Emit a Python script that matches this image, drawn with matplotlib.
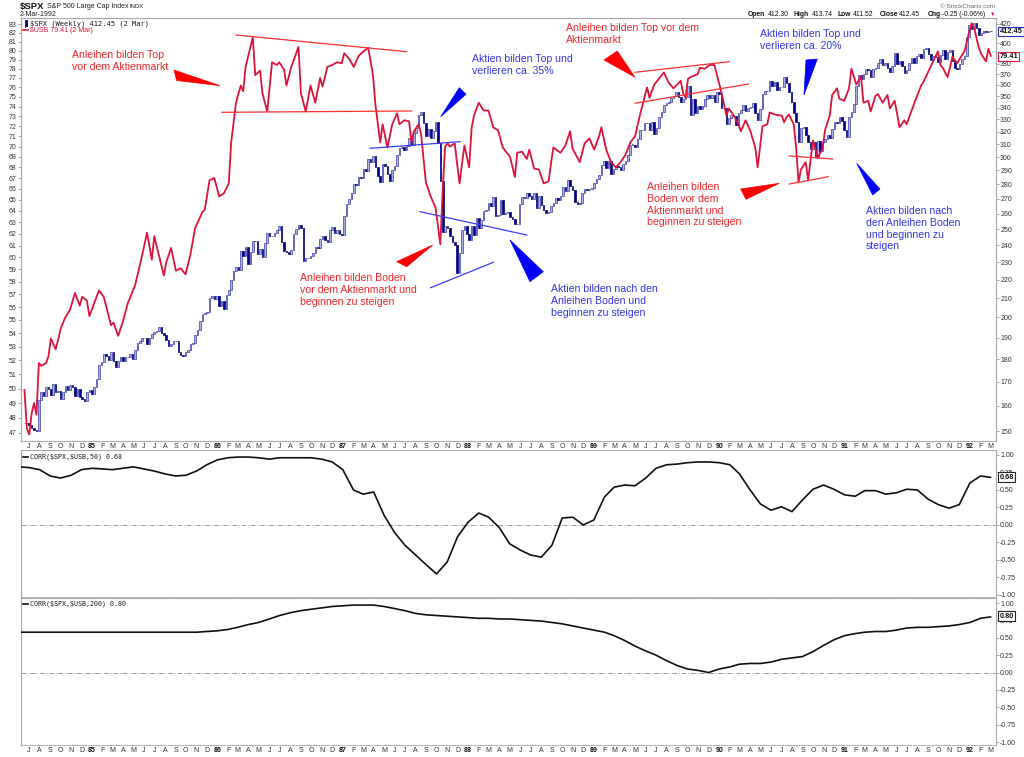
import datetime as dt
import numpy as np
import matplotlib
matplotlib.use("Agg")
import matplotlib.pyplot as plt
import matplotlib.dates as mdates
from matplotlib.patches import Polygon
from matplotlib.lines import Line2D
from matplotlib.ticker import NullLocator, NullFormatter, FixedLocator, FixedFormatter

plt.rcParams['font.family'] = ['Liberation Sans', 'DejaVu Sans']

# ---------------- data ----------------
# weekly S&P 500 closes, one per week (weeks starting Monday 18-Jun-1984 ... 2-Mar-1992)
spx_close = [
    # 1984
    153.0, 153.2, 152.4, 151.0, 150.5, 150.1, 162.4, 165.4, 164.1, 167.5, 166.7, 164.3, 168.8, 165.7,
    166.1, 162.7, 165.8, 168.1, 166.3, 168.7, 167.6, 164.1, 166.9, 163.6, 162.8, 161.8, 165.5, 166.3,
    # 1985
    164.6, 167.9, 171.3, 177.4, 178.6, 182.2, 181.6, 179.4, 183.2, 179.1, 176.5, 179.0, 180.7, 179.0,
    180.9, 181.1, 182.2, 180.1, 184.3, 187.4, 188.3, 189.6, 189.7, 187.1, 189.6, 191.9, 192.5, 193.3,
    195.1, 192.4, 191.5, 188.9, 186.1, 187.2, 188.6, 188.2, 183.4, 182.0, 181.3, 183.2, 184.3, 187.0,
    187.5, 191.5, 193.7, 198.1, 201.5, 202.2, 202.9, 209.9, 210.9, 209.6,
    # 1986
    210.9, 205.9, 208.4, 204.3, 211.8, 214.6, 219.8, 224.6, 226.9, 225.6, 236.5, 233.3, 238.9, 228.7,
    236.0, 242.4, 242.3, 234.8, 237.9, 232.8, 241.4, 247.4, 245.7, 245.7, 247.6, 249.6, 251.8, 242.2,
    236.4, 236.0, 234.9, 236.9, 247.2, 250.2, 252.9, 250.5, 230.7, 232.2, 232.2, 233.7, 235.5, 238.8,
    238.3, 244.0, 245.8, 243.0, 242.0, 249.2, 251.2, 247.4, 249.7, 246.8,
    # 1987
    246.5, 258.7, 266.3, 270.1, 274.1, 280.0, 279.7, 285.5, 284.2, 290.7, 289.9, 298.2, 296.1, 300.5,
    292.5, 286.0, 281.5, 294.7, 293.4, 287.4, 282.2, 290.1, 293.5, 301.6, 307.0, 308.0, 305.6, 308.4,
    314.6, 309.3, 318.7, 323.0, 334.0, 335.9, 327.0, 316.7, 322.0, 314.9, 320.2, 328.1, 311.1, 282.7,
    248.2, 251.8, 250.4, 245.6, 242.0, 240.3, 223.9, 235.3, 249.2, 252.0, 247.1,
    # 1988
    243.4, 252.1, 246.5, 257.1, 251.0, 256.0, 261.6, 262.5, 267.3, 264.9, 271.1, 258.5, 258.9, 269.4,
    259.8, 260.1, 261.3, 257.5, 256.8, 253.0, 253.4, 266.5, 271.3, 270.7, 273.8, 271.8, 270.0, 274.0,
    263.5, 272.0, 266.0, 262.6, 260.2, 261.0, 264.9, 266.8, 270.7, 268.9, 271.9, 278.1, 275.2, 283.0,
    278.5, 276.3, 267.9, 266.5, 267.2, 274.0, 277.0, 276.3, 276.9, 277.7,
    # 1989
    280.7, 283.9, 286.6, 293.8, 297.1, 292.0, 296.8, 287.1, 291.2, 292.9, 292.7, 290.5, 294.9, 297.2,
    301.7, 309.6, 309.6, 307.6, 313.8, 321.2, 321.6, 326.7, 326.6, 321.4, 328.0, 318.0, 323.0, 331.8,
    335.9, 342.1, 343.9, 344.7, 347.9, 350.5, 353.7, 348.8, 345.1, 347.1, 349.2, 358.8, 333.7, 347.2,
    335.1, 340.9, 339.1, 341.6, 347.4, 350.6, 348.7, 351.0, 344.8, 353.4,
    # 1990
    352.2, 339.9, 339.2, 325.8, 330.9, 333.6, 332.7, 325.0, 335.5, 337.9, 341.9, 337.2, 339.9, 340.1,
    344.3, 335.1, 329.1, 338.4, 352.0, 354.6, 354.6, 363.2, 358.7, 362.9, 355.4, 358.0, 358.4, 367.3,
    361.6, 353.4, 344.9, 335.5, 327.8, 311.5, 322.6, 323.4, 316.8, 311.3, 306.1, 311.5, 300.0, 312.5,
    304.7, 311.9, 313.7, 317.1, 315.1, 322.2, 327.8, 326.8, 331.8, 328.3,
    # 1991
    321.0, 315.2, 332.2, 336.1, 343.1, 359.4, 369.1, 365.7, 370.5, 374.9, 373.5, 367.5, 375.2, 375.4,
    380.4, 384.2, 379.0, 380.8, 376.0, 372.4, 377.5, 389.8, 379.4, 382.3, 377.9, 371.2, 374.1, 380.3,
    385.4, 380.9, 387.2, 389.3, 385.6, 394.2, 395.4, 389.1, 383.6, 387.6, 385.9, 381.3, 387.9, 392.8,
    384.2, 391.3, 393.1, 382.6, 376.1, 375.2, 379.1, 384.5, 387.0, 406.5,
    # 1992
    419.3, 415.1, 420.8, 415.5, 408.8, 411.0, 412.5, 411.4, 412.7, 412.45,
]

# $USB readings: week number (same weekly count as above) and value
usb_week = [
    0, 1, 2, 3, 4, 5, 6, 7, 8, 9, 10, 11, 12, 13, 14, 15, 17, 19, 21, 23, 24, 26, 27, 31, 33, 36, 37,
    39, 41, 43, 46, 49, 51, 53, 54, 58, 59, 61, 63, 65, 67, 69, 71, 74, 75, 77, 79, 81, 83, 85, 86,
    88, 90, 91, 92, 95, 96, 98, 99, 101, 102, 103, 105, 106, 108, 109, 111, 114, 115, 117, 119, 121,
    123, 124, 126, 128, 130, 132, 133, 135, 137, 139, 141, 143, 145, 146, 148, 149, 151, 153, 155,
    156, 158, 160, 161, 162, 164, 165, 167, 169, 171, 173, 174, 175, 176, 177, 179, 180, 181, 183,
    185, 186, 187, 189, 191, 193, 195, 197, 199, 202, 204, 205, 207, 209, 210, 212, 214, 216, 218,
    220, 223, 225, 227, 228, 231, 233, 235, 237, 239, 240, 242, 244, 246, 248, 250, 252, 254, 256,
    259, 260, 262, 266, 268, 270, 273, 274, 275, 276, 277, 280, 281, 283, 285, 287, 288, 290, 292,
    293, 295, 297, 298, 300, 302, 304, 305, 307, 309, 310, 312, 314, 315, 316, 317, 318, 320, 321,
    322, 323, 325, 326, 328, 330, 332, 333, 335, 336, 338, 339, 341, 343, 344, 346, 348, 349, 351,
    352, 354, 355, 357, 359, 360, 362, 364, 366, 367, 368, 371, 373, 374, 376, 378, 380, 381, 382,
    384, 385, 386, 388, 390, 391, 393, 394, 395, 397, 398, 400, 401, 402,
]
usb_value = [
    49.9, 47.3, 46.9, 48.3, 49.0, 48.2, 51.8, 51.6, 51.7, 51.8, 52.3, 53.6, 53.2, 52.8, 53.5, 54.3,
    55.2, 55.8, 57.1, 56.1, 56.8, 56.5, 55.3, 57.3, 56.8, 54.6, 54.8, 53.8, 54.9, 56.3, 57.7, 60.2,
    62.1, 59.8, 61.8, 58.5, 59.6, 60.8, 58.9, 59.1, 58.6, 60.2, 62.5, 63.9, 64.1, 66.8, 67.0, 65.3,
    65.6, 66.5, 70.4, 74.4, 76.2, 75.6, 78.2, 81.5, 77.3, 77.8, 75.4, 73.5, 76.0, 78.7, 78.4, 78.7,
    77.9, 76.2, 78.2, 80.4, 75.4, 73.5, 76.2, 74.4, 77.0, 76.1, 78.2, 78.4, 78.7, 78.6, 79.7, 79.1,
    78.2, 79.4, 79.9, 80.3, 77.3, 74.2, 70.4, 72.2, 69.9, 72.2, 73.3, 72.2, 72.6, 72.5, 70.4, 71.5,
    72.2, 71.2, 66.6, 65.3, 64.3, 61.1, 66.0, 70.0, 70.3, 70.0, 70.3, 68.3, 66.5, 70.1, 68.0, 71.8,
    73.1, 74.4, 73.6, 73.6, 71.9, 71.6, 69.9, 69.0, 67.1, 69.4, 69.5, 68.8, 69.7, 67.9, 67.8, 66.5,
    66.7, 69.9, 69.4, 70.1, 71.5, 69.8, 68.5, 70.3, 70.8, 69.7, 71.0, 71.9, 69.7, 68.5, 68.0, 68.5,
    69.2, 70.4, 71.0, 73.1, 76.0, 74.9, 76.3, 77.6, 76.5, 75.9, 76.7, 75.4, 74.9, 76.9, 77.1, 77.4,
    78.1, 78.0, 78.4, 78.4, 77.4, 75.4, 73.1, 73.8, 73.1, 72.2, 71.5, 72.6, 71.5, 69.9, 68.0, 72.0,
    72.2, 73.4, 73.2, 73.1, 73.1, 72.4, 72.9, 73.2, 72.2, 69.9, 66.6, 67.8, 68.5, 66.8, 70.6, 68.9,
    69.8, 71.6, 73.1, 75.2, 75.9, 74.8, 74.6, 75.9, 78.0, 76.3, 77.2, 74.4, 74.6, 73.5, 75.1, 75.3,
    74.4, 75.2, 73.8, 74.6, 71.9, 72.6, 72.2, 72.9, 74.9, 76.2, 76.6, 77.7, 78.8, 79.9, 78.4, 78.1,
    77.1, 78.1, 79.3, 78.6, 79.5, 79.9, 82.1, 83.1, 82.6, 80.3, 79.6, 78.8, 80.2, 79.41,
]

# monthly correlation readings, June 1984 ... March 1992
corr50 = [
    0.83, 0.82, 0.79, 0.70, 0.67, 0.71, 0.79,
    0.81, 0.80, 0.79, 0.81, 0.83, 0.80, 0.77, 0.73, 0.70, 0.71, 0.77, 0.86,
    0.93, 0.96, 0.97, 0.97, 0.96, 0.94, 0.96, 0.96, 0.96, 0.96, 0.94, 0.90,
    0.79, 0.50, 0.44, 0.47, 0.14, -0.11, -0.29, -0.43, -0.57, -0.70, -0.53, -0.17,
    0.04, 0.17, 0.11, -0.04, -0.27, -0.36, -0.43, -0.46, -0.29, 0.10, 0.11, 0.00,
    0.07, 0.40, 0.54, 0.57, 0.56, 0.67, 0.81, 0.86, 0.87, 0.89, 0.90, 0.90,
    0.89, 0.86, 0.73, 0.50, 0.30, 0.21, 0.26, 0.19, 0.36, 0.51, 0.57, 0.51,
    0.43, 0.41, 0.49, 0.49, 0.44, 0.46, 0.51, 0.50, 0.37, 0.29, 0.24, 0.29,
    0.60, 0.70, 0.68,
]
corr200 = [
    0.58, 0.58, 0.58, 0.58, 0.58, 0.58, 0.58,
    0.58, 0.58, 0.58, 0.58, 0.58, 0.58, 0.58, 0.58, 0.58, 0.58, 0.58, 0.59,
    0.60, 0.62, 0.65, 0.69, 0.72, 0.77, 0.82, 0.86, 0.89, 0.91, 0.93, 0.95,
    0.96, 0.97, 0.97, 0.97, 0.95, 0.92, 0.89, 0.85, 0.83, 0.82, 0.81, 0.80,
    0.79, 0.78, 0.78, 0.77, 0.77, 0.76, 0.75, 0.74, 0.72, 0.70, 0.67, 0.64,
    0.61, 0.58, 0.53, 0.46, 0.38, 0.31, 0.25, 0.17, 0.10, 0.05, 0.03, 0.00,
    0.05, 0.08, 0.12, 0.13, 0.13, 0.15, 0.19, 0.21, 0.23, 0.30, 0.39, 0.47,
    0.53, 0.56, 0.58, 0.59, 0.59, 0.61, 0.64, 0.65, 0.65, 0.66, 0.67, 0.69,
    0.72, 0.78, 0.80,
]

usb_ticks = list(range(47, 84))
spx_ticks = [150, 160, 170, 180, 190, 200, 210, 220, 230, 240, 250, 260, 270, 280, 290, 300,
             310, 320, 330, 340, 350, 360, 370, 380, 400, 420]
corr_ticks = [1.0, 0.75, 0.5, 0.25, 0.0, -0.25, -0.5, -0.75, -1.0]
month_letters = ['J', 'F', 'M', 'A', 'M', 'J', 'J', 'A', 'S', 'O', 'N', 'D']

# ---------------- derived dates ----------------
first_week = dt.date(1984, 6, 18)
week_x = mdates.date2num([first_week + dt.timedelta(days=7 * i) for i in range(len(spx_close))])
usb_x = mdates.date2num([first_week + dt.timedelta(days=7 * w) for w in usb_week])
corr_x = mdates.date2num([dt.date(1984 + (5 + k) // 12, (5 + k) % 12 + 1, 1) for k in range(len(corr50))])
month_dates = []
d = dt.date(1984, 7, 1)
while d <= dt.date(1992, 3, 1):
    month_dates.append(d)
    d = dt.date(d.year + (d.month // 12), d.month % 12 + 1, 1)
month_x = mdates.date2num(month_dates)
month_lab = [("%02d" % (m.year % 100)) if m.month == 1 else month_letters[m.month - 1] for m in month_dates]
xlim = mdates.date2num([dt.date(1984, 6, 8), dt.date(1992, 3, 17)])

# ---------------- figure ----------------
W, H = 1024, 757
fig = plt.figure(figsize=(W / 100, H / 100), dpi=100)
fig.patch.set_facecolor('white')


def fx(x):
    return x / W


def fy(y):
    return 1 - y / H


L, R = 21, 996
SPINE = '#a9a9a9'
TXT = '#333333'
NAVY = '#000080'
CRIMSON = '#dc143c'


def style_axes(a):
    for s in a.spines.values():
        s.set_color(SPINE)
        s.set_linewidth(0.8)
    a.spines['bottom'].set_linestyle((0, (1, 1.5)))
    a.tick_params(axis='y', which='major', labelsize=5, length=2, width=0.5,
                  color='#888888', pad=1, labelcolor=TXT)
    a.tick_params(axis='x', which='major', length=0, pad=1.2, labelsize=5, labelcolor=TXT)


def month_axis(a, show):
    a.set_xlim(*xlim)
    a.xaxis.set_major_locator(FixedLocator(month_x))
    a.xaxis.set_major_formatter(FixedFormatter(month_lab))
    a.xaxis.set_minor_locator(NullLocator())
    a.tick_params(axis='x', labelbottom=show)
    if show:
        for t, lab in zip(a.get_xticklabels(), month_lab):
            if lab.isdigit():
                t.set_fontweight('bold')
                t.set_color('#111111')


# main price panel (SPX on right axis)
ax = fig.add_axes([fx(L), fy(441), (R - L) / W, (441 - 18) / H])
style_axes(ax)
ax.set_yscale('log')
ax.set_ylim(146.3, 426.4)
month_axis(ax, True)

opens = [spx_close[0]] + spx_close[:-1]
bottoms = [min(o, c) for o, c in zip(opens, spx_close)]
heights = [max(abs(c - o), 0.25) for o, c in zip(opens, spx_close)]
up = [c >= o for o, c in zip(opens, spx_close)]
face = ['#aab0e6' if u else NAVY for u in up]
edge = ['#3c3ca8' if u else NAVY for u in up]
ax.bar(week_x, heights, bottom=bottoms, width=4.6, color=face, edgecolor=edge, linewidth=0.5,
       align='center', zorder=2)

# USB on a twin axis, labels on the left
axu = ax.twinx()
axu.set_yscale('log')
axu.set_ylim(46.48, 83.70)
style_axes(axu)
axu.set_xlim(*xlim)
axu.plot(usb_x, usb_value, color=CRIMSON, lw=1.3, zorder=3)

# put axis sides in place (twinx moves the host's ticks to the left)
ax.yaxis.tick_right()
ax.yaxis.set_major_locator(FixedLocator(spx_ticks))
ax.yaxis.set_major_formatter(FixedFormatter([str(t) for t in spx_ticks]))
ax.yaxis.set_minor_locator(NullLocator())
ax.yaxis.set_minor_formatter(NullFormatter())
ax.tick_params(axis='y', which='major', labelsize=5, length=2, width=0.5, color='#888888', pad=1,
               labelcolor=TXT, left=False, labelleft=False, right=True, labelright=True)

axu.yaxis.tick_left()
axu.yaxis.set_major_locator(FixedLocator(usb_ticks))
axu.yaxis.set_major_formatter(FixedFormatter([str(t) for t in usb_ticks]))
axu.yaxis.set_minor_locator(NullLocator())
axu.yaxis.set_minor_formatter(NullFormatter())
axu.tick_params(axis='y', which='major', labelsize=5, length=2, width=0.5, color='#888888', pad=1,
                labelcolor=TXT, left=True, labelleft=True, right=False, labelright=False)


# correlation panels
def corr_panel(top, bottom, values, ylo, yhi, show_x):
    a = fig.add_axes([fx(L), fy(bottom), (R - L) / W, (bottom - top) / H])
    style_axes(a)
    a.set_ylim(ylo, yhi)
    a.yaxis.tick_right()
    a.yaxis.set_major_locator(FixedLocator(corr_ticks))
    a.yaxis.set_major_formatter(FixedFormatter(["%.2f" % t for t in corr_ticks]))
    month_axis(a, show_x)
    a.axhline(0, color='#8c8c8c', lw=0.6, ls=(0, (6, 2, 1, 2)), zorder=1)
    a.plot(corr_x, values, color='#111111', lw=1.2, zorder=3)
    return a


ax2 = corr_panel(450, 597, corr50, -1.03, 1.071, False)
ax3 = corr_panel(598, 745, corr200, -1.043, 1.072, True)

# ---------------- header / legends ----------------
fig.text(fx(20), fy(6.5), r'\$SPX', fontsize=6.8, fontweight='bold', va='center', color='#111')
fig.text(fx(47), fy(6.5), 'S&P 500 Large Cap Index', fontsize=5.0, va='center', color='#222')
fig.text(fx(129), fy(6.8), 'INDX', fontsize=4.2, va='center', color='#222')
fig.text(fx(20), fy(14.5), '2-Mar-1992', fontsize=5.0, va='center', color='#222')
fig.text(fx(995), fy(6), '\u00a9 StockCharts.com', fontsize=4.6, color='#666', ha='right', va='center')
hdr = [(747.7, 'Open', True), (768, '412.30', False), (794, 'High', True), (811.7, '413.74', False),
       (837, 'Low', True), (852.7, '411.52', False), (880, 'Close', True), (899, '412.45', False),
       (927.7, 'Chg', True), (941.7, '-0.25 (-0.06%)', False)]
for x, s, b in hdr:
    fig.text(fx(x), fy(14.5), s, fontsize=4.9, fontweight='bold' if b else 'normal', va='center', color='#111')
fig.text(fx(990), fy(14.5), '\u25bc', fontsize=4, va='center', color=CRIMSON)

fig.add_artist(Line2D([fx(24.5), fx(24.5)], [fy(20), fy(26.5)], transform=fig.transFigure, color=NAVY, lw=0.6))
fig.add_artist(Line2D([fx(26.8), fx(26.8)], [fy(20.5), fy(26)], transform=fig.transFigure, color=NAVY, lw=1.4))
fig.text(fx(30), fy(23.3), r'\$SPX (Weekly) 412.45 (2 Mar)', family='DejaVu Sans Mono', fontsize=5.1,
         va='center', color='#1a1a1a')
fig.add_artist(Line2D([fx(23), fx(28)], [fy(30), fy(30)], transform=fig.transFigure, color=CRIMSON, lw=1.2))
fig.text(fx(29.5), fy(30.2), r'\$USB 79.41 (2 Mar)', fontsize=5.0, va='center', color=CRIMSON)

for yy, s in [(457, r'CORR(\$SPX,\$USB,50) 0.68'), (603.5, r'CORR(\$SPX,\$USB,200) 0.80')]:
    fig.add_artist(Line2D([fx(23), fx(28)], [fy(yy), fy(yy)], transform=fig.transFigure, color='#111', lw=1.2))
    fig.text(fx(30), fy(yy), s, family='DejaVu Sans Mono', fontsize=4.8, va='center', color='#1a1a1a')


# last value boxes
def value_box(y, s, ec):
    fig.text(fx(999.5), fy(y), s, fontsize=5.3, fontweight='bold', va='center', ha='left', color='#111',
             bbox=dict(boxstyle='square,pad=0.18', fc='white', ec=ec, lw=0.8), zorder=5)


value_box(31.5, '412.45', '#2a2ab0')
value_box(56.5, '79.41', CRIMSON)
value_box(477, '0.68', '#222')
value_box(616, '0.80', '#222')

# ---------------- annotations ----------------
RED_T = '#f0262a'
BLUE_T = '#3535f0'
notes = [
    (72, 50, "Anleihen bilden Top\nvor dem Aktienmarkt", RED_T),
    (472, 54, "Aktien bilden Top und\nverlieren ca. 35%", BLUE_T),
    (300, 273, "Anleihen bilden Boden\nvor dem Aktienmarkt und\nbeginnen zu steigen", RED_T),
    (551, 284, "Aktien bilden nach den\nAnleihen Boden und\nbeginnen zu steigen", BLUE_T),
    (566, 23, "Anleihen bilden Top vor dem\nAktienmarkt", RED_T),
    (760, 29, "Aktien bilden Top und\nverlieren ca. 20%", BLUE_T),
    (647, 182, "Anleihen bilden\nBoden vor dem\nAktienmarkt und\nbeginnen zu steigen", RED_T),
    (866, 206, "Aktien bilden nach\nden Anleihen Boden\nund beginnen zu\nsteigen", BLUE_T),
]
for x, y, s, c in notes:
    fig.text(fx(x), fy(y), s, fontsize=7.6, color=c, ha='left', va='top', linespacing=1.22, zorder=6)

wedges = [
    ([(174, 70), (176.7, 80.5), (220, 85.7)], '#ff0000'),
    ([(459.3, 87.7), (466, 94.3), (440.7, 116.7)], '#0000ff'),
    ([(396.7, 261.7), (406.7, 266.7), (432.7, 245)], '#ff0000'),
    ([(510, 240), (543.3, 271.7), (530, 281.7)], '#0000ff'),
    ([(604, 60), (617.3, 51), (635, 77.3)], '#ff0000'),
    ([(806, 60), (817.3, 59), (804, 95)], '#0000ff'),
    ([(740.7, 189), (746, 199.3), (779.3, 183.3)], '#ff0000'),
    ([(856.7, 163.3), (880, 189), (872.7, 195)], '#0000ff'),
]
for pts, c in wedges:
    fig.add_artist(Polygon([(fx(a), fy(b)) for a, b in pts], closed=True, transform=fig.transFigure,
                           fc=c, ec=c, lw=0.5, zorder=6))

trend = [
    ((236, 35), (406.7, 51.7), '#ff3030'),
    ((221.7, 112.3), (411.7, 111), '#ff3030'),
    ((635, 72.3), (729.3, 61.7), '#ff3030'),
    ((635, 103.3), (748.3, 84), '#ff3030'),
    ((789.3, 156), (832.7, 159), '#ff3030'),
    ((789.3, 184), (828.3, 176.7), '#ff3030'),
    ((370, 148.3), (460, 141.7), '#3c3cff'),
    ((420, 211.7), (526.7, 235), '#3c3cff'),
    ((430.7, 287.7), (493.3, 262.3), '#3c3cff'),
]
for (x1, y1), (x2, y2), c in trend:
    fig.add_artist(Line2D([fx(x1), fx(x2)], [fy(y1), fy(y2)], transform=fig.transFigure, color=c,
                          lw=0.9, zorder=6))

fig.savefig('out.png', dpi=100, facecolor='white')
